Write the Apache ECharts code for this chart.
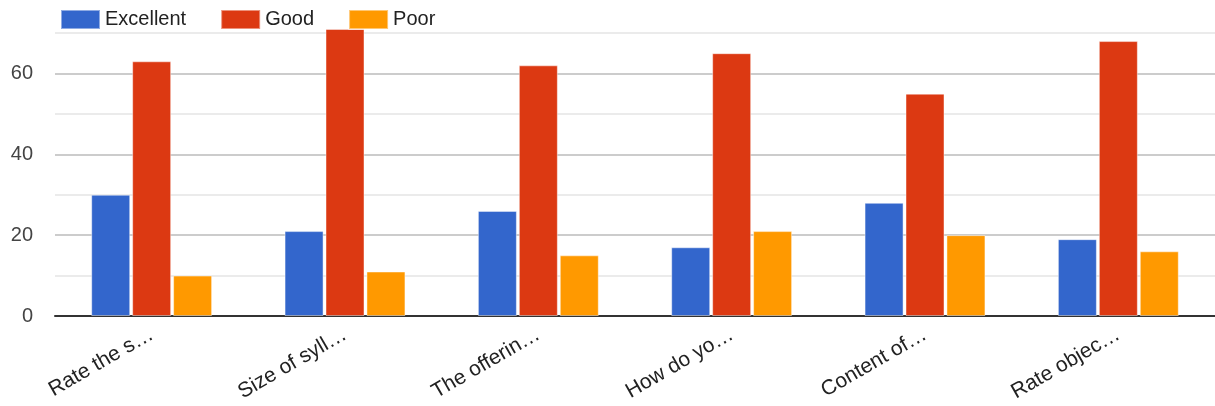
<!DOCTYPE html>
<html>
<head>
<meta charset="utf-8">
<script src="https://cdn.jsdelivr.net/npm/echarts@6/dist/echarts.min.js"></script>
<style>
  html, body { margin: 0; padding: 0; background: #fff; }
  #chart { width: 1215px; height: 406px; }
</style>
</head>
<body>
<div id="chart"></div>
<script>
// data
const categories = ['Rate the s…', 'Size of syll…', 'The offerin…', 'How do yo…', 'Content of…', 'Rate objec…'];
const excellent = [30, 21, 26, 17, 28, 19];
const good = [63, 71, 62, 65, 55, 68];
const poor = [10, 11, 15, 21, 20, 16];
const seriesNames = ['Excellent', 'Good', 'Poor'];
const colors = ['#3366cc', '#dc3912', '#ff9900'];

const font = '"Liberation Sans", Arial, sans-serif';

const makeBar = (name, data, color) => ({
  name,
  type: 'bar',
  data,
  barWidth: 39,
  barGap: '5%',
  clip: false,
  itemStyle: {
    color,
    borderColor: 'rgba(255,255,255,0.45)',
    borderWidth: 1,
  },
});

const chart = echarts.init(document.getElementById('chart'));
chart.setOption({
  animation: false,
  color: colors,
  textStyle: { fontFamily: font },
  legend: {
    left: 55,
    top: 4,
    itemWidth: 39,
    itemHeight: 19,
    itemGap: 34,
    icon: 'rect',
    textStyle: { fontSize: 20, color: '#222', fontFamily: font },
    data: seriesNames,
  },
  grid: { left: 55, right: 0, top: 33, bottom: 90 },
  xAxis: {
    type: 'category',
    data: categories,
    axisTick: { show: false },
    axisLine: { lineStyle: { color: '#333', width: 2 } },
    axisLabel: {
      rotate: 30,
      fontSize: 21,
      color: '#222',
      fontFamily: font,
      margin: 17,
    },
  },
  yAxis: {
    type: 'value',
    min: 0,
    max: 70,
    interval: 10,
    axisLine: { show: false },
    axisTick: { show: false },
    axisLabel: {
      fontSize: 20,
      color: '#444',
      fontFamily: font,
      margin: 22,
      formatter: (v) => (v % 20 === 0 ? String(v) : ''),
    },
    splitLine: { lineStyle: { color: ['#cccccc', '#ebebeb'], width: 2 } },
  },
  series: [
    makeBar(seriesNames[0], excellent, colors[0]),
    makeBar(seriesNames[1], good, colors[1]),
    makeBar(seriesNames[2], poor, colors[2]),
  ],
});
</script>
</body>
</html>
